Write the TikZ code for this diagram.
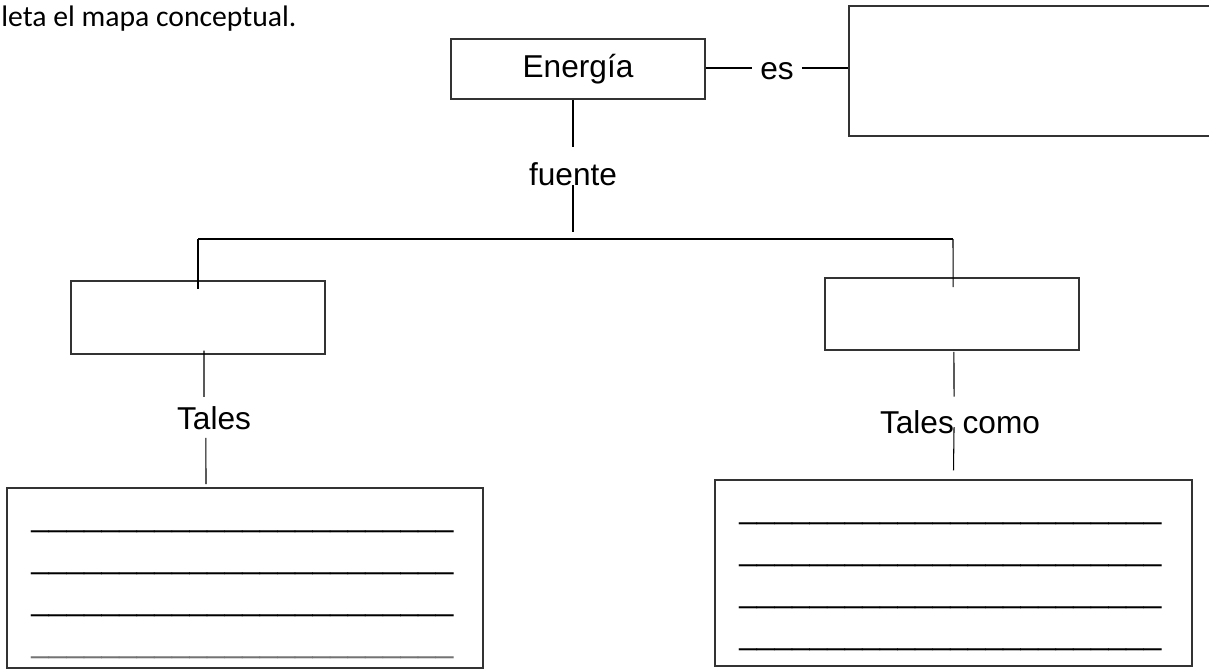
\documentclass[tikz,border=0pt]{standalone}
\usepackage{fontspec}
\usepackage{tikz}
\usetikzlibrary{calc}
\newfontfamily\arialfont{Liberation Sans}
\newfontfamily\calibrifont{Carlito}
\newcommand{\writeline}{\_\_\_\_\_\_\_\_\_\_\_\_\_\_\_\_\_\_\_\_\_\_\_\_}

\begin{document}
\begin{tikzpicture}[x=0.02cm, y=-0.02cm, font=\arialfont\fontsize{18}{22}\selectfont,
  concept/.style={draw=black!80, line width=0.9pt, inner sep=0pt},
  linkword/.style={inner sep=0pt},
  wire/.style={line width=0.6pt}]
  \useasboundingbox (0,0) rectangle (1209,669);
  \clip (0,0) rectangle (1209,669);

  \node[anchor=base west, inner sep=0pt, font=\calibrifont\fontsize{16.9}{20}\selectfont] (task) at (1,27) {leta el mapa conceptual.};

  % concepts
  \node[concept, minimum width=5.08cm, minimum height=1.2cm] (energia) at (578,69) {Energía};
  \node[concept, minimum width=7.32cm, minimum height=2.6cm] (defbox) at (1032,71) {};
  \node[concept, minimum width=5.08cm, minimum height=1.46cm] (leftbox) at (198,317.5) {};
  \node[concept, minimum width=5.08cm, minimum height=1.44cm] (rightbox) at (952,314) {};
  \node[concept, minimum width=9.52cm, minimum height=3.6cm] (leftlist) at (245,578) {};
  \node[concept, minimum width=9.54cm, minimum height=3.72cm] (rightlist) at (953.5,573) {};

  % linking words
  \node[linkword, inner xsep=4.5pt, text height=0.48cm, text depth=0pt, anchor=base] (es) at (777,80) {es};
  \node[linkword, anchor=base] (fuente) at (573,185) {fuente};
  \node[linkword, anchor=base] (tales) at (214,429) {Tales};
  \node[linkword, anchor=base] (talescomo) at (960,433) {Tales como};

  % blank lines to fill in
  \foreach \k in {0,...,2}
    \node[linkword, anchor=base west] (la\k) at (31,526+42*\k) {\writeline};
  \node[linkword, anchor=base west, text=black!55] (la3) at (31,652) {\writeline};
  \foreach \k in {0,...,3}
    \node[linkword, anchor=base west] (lb\k) at (739,518+42.3*\k) {\writeline};

  \coordinate (fork) at (573,232);
  \coordinate (barL) at (198,239);
  \coordinate (barR) at (953,239);

  \draw[wire] (es -| energia.east) -- (es) -- (es -| defbox.west);
  \draw[wire] (energia.south -| fuente) -- ([yshift=8.5pt]fuente.north);
  \draw[wire] (fuente.base) -- (fork);
  \draw[wire] (barL) -- (barR);
  \draw[wire] (barL) -- ([yshift=-5pt]leftbox.north);
  \draw[wire] (barR) -- ([xshift=0.6pt,yshift=-5.7pt]rightbox.north);
  \draw[wire] ([xshift=3.4pt,yshift=2.3pt]leftbox.south) -- ([xshift=-5.7pt,yshift=5pt]tales.north);
  \draw[wire] ([xshift=-4.6pt,yshift=-5pt]tales.base) -- ([xshift=-22.2pt,yshift=1.7pt]leftlist.north);
  \draw[wire] ([xshift=1.1pt,yshift=-0.6pt]rightbox.south) -- ([xshift=-3.4pt,yshift=7.4pt]talescomo.north);
  \draw[wire] ([xshift=-3.4pt,yshift=3.4pt]talescomo.base) -- ([yshift=5pt]rightlist.north);
\end{tikzpicture}
\end{document}
